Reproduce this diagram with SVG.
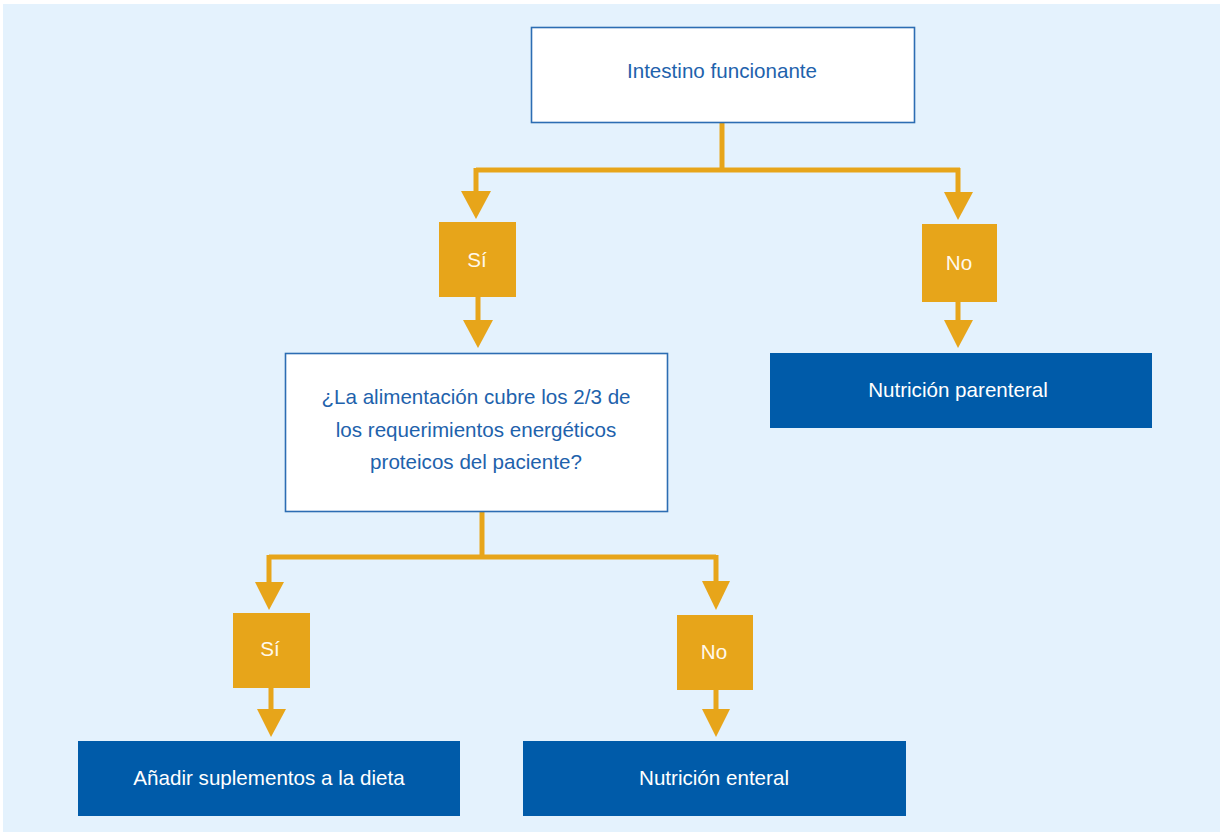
<svg xmlns="http://www.w3.org/2000/svg" width="1220" height="832" viewBox="0 0 1220 832">
<defs>
<style>
.bg{fill:#E4F2FD}
.wbox{fill:#FFFFFF;stroke:#2C6DB3;stroke-width:1.6}
.dbox{fill:#005BA9}
.obox{fill:#E7A51A}
.line{fill:none;stroke:#E7A51A;stroke-width:5}
.ah{fill:#E7A51A}
text{font-family:"Liberation Sans",Arial,sans-serif;font-size:20.6px;text-anchor:middle}
.tb{fill:#1E62AC}
.tw{fill:#FFFFFF}
.to{fill:#FFF8EC}
</style>
</defs>
<rect class="bg" x="3" y="4" width="1217" height="828"/>
<g id="connectors">
<path class="line" d="M722,123 V170 M476,170 H960 M476,168 V192 M958,168 V194"/>
<polygon class="ah" points="461,191 491,191 476,219"/>
<polygon class="ah" points="944,192 973,192 958,220"/>
<path class="line" d="M478,297 V322"/>
<polygon class="ah" points="463,320 493,320 478,348"/>
<path class="line" d="M958,302 V322"/>
<polygon class="ah" points="944,320 973,320 958,348"/>
<path class="line" d="M482,512 V557 M269,557 H716 M269,555 V584 M716,555 V584"/>
<polygon class="ah" points="255,582 284,582 269,610"/>
<polygon class="ah" points="702,581 730,581 716,610"/>
<path class="line" d="M271,688 V711"/>
<polygon class="ah" points="257,709 286,709 271,737"/>
<path class="line" d="M716,690 V711"/>
<polygon class="ah" points="702,709 730,709 716,737"/>
</g>
<g id="n-intestino">
<rect class="wbox" x="531.5" y="27.5" width="383" height="95"/>
<text class="tb" x="722" y="78">Intestino funcionante</text>
</g>
<g id="n-si1">
<rect class="obox" x="439" y="222" width="77" height="75"/>
<text class="to" x="477" y="267">Sí</text>
</g>
<g id="n-no1">
<rect class="obox" x="922" y="224" width="75" height="78"/>
<text class="to" x="959" y="270">No</text>
</g>
<g id="n-parenteral">
<rect class="dbox" x="770" y="353" width="382" height="75"/>
<text class="tw" x="958" y="397">Nutrición parenteral</text>
</g>
<g id="n-pregunta">
<rect class="wbox" x="285.5" y="353.5" width="382" height="158"/>
<text class="tb" x="476" y="404">¿La alimentación cubre los 2/3 de</text>
<text class="tb" x="476" y="437">los requerimientos energéticos</text>
<text class="tb" x="476" y="469">proteicos del paciente?</text>
</g>
<g id="n-si2">
<rect class="obox" x="233" y="613" width="77" height="75"/>
<text class="to" x="270" y="656">Sí</text>
</g>
<g id="n-no2">
<rect class="obox" x="677" y="615" width="76" height="75"/>
<text class="to" x="714" y="659">No</text>
</g>
<g id="n-suplementos">
<rect class="dbox" x="78" y="741" width="382" height="75"/>
<text class="tw" x="269" y="785">Añadir suplementos a la dieta</text>
</g>
<g id="n-enteral">
<rect class="dbox" x="523" y="741" width="383" height="75"/>
<text class="tw" x="714" y="785">Nutrición enteral</text>
</g>
</svg>
